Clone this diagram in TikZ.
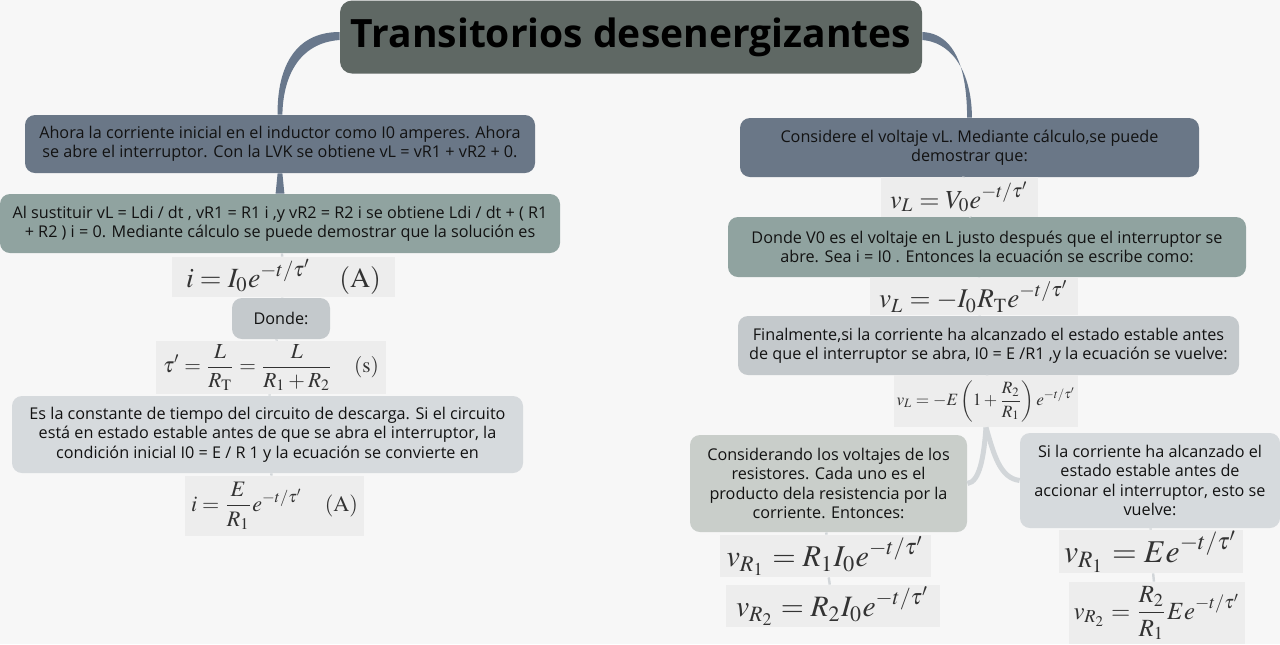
\documentclass[tikz,border=0pt]{standalone}
\usepackage{mathptmx}
\usepackage{fontspec}
\setmainfont{Open Sans}
\usepackage{graphicx}
\usepackage{tikz}
\usetikzlibrary{positioning}
\definecolor{bggray}{RGB}{247,247,247}
\definecolor{ttlfill}{RGB}{95,104,100}
\definecolor{slatefill}{RGB}{106,119,135}
\definecolor{tealfill}{RGB}{144,163,160}
\definecolor{greyfill}{RGB}{196,201,204}
\definecolor{palefill}{RGB}{214,218,221}
\definecolor{sagefill}{RGB}{201,206,202}
\definecolor{eqfill}{RGB}{237,237,237}
\definecolor{branchcol}{RGB}{105,120,140}
\definecolor{twigcol}{RGB}{210,214,217}
\definecolor{txtdark}{RGB}{18,18,18}
\newcommand{\eqfit}[2]{\resizebox{#1pt}{!}{$\displaystyle #2$}}
\tikzset{
  topic/.style={rectangle, rounded corners=5pt, inner sep=0pt, align=center,
    text=txtdark, font=\fontsize{8.1}{9.7}\selectfont},
  slatebox/.style={topic, fill=slatefill},
  tealbox/.style={topic, fill=tealfill},
  greybox/.style={topic, fill=greyfill},
  palebox/.style={topic, fill=palefill},
  sagebox/.style={topic, fill=sagefill},
  eqbox/.style={rectangle, fill=eqfill, inner sep=0pt, text=black!80},
  branch/.style={fill=branchcol},
  twig/.style={line width=2.5pt, color=twigcol},
  link/.style={line width=1.2pt, color=twigcol}
}
\begin{document}
\begin{tikzpicture}[x=0.5pt, y=-0.5pt]
  \fill[bggray] (0,0) rectangle (1280,644);
  \useasboundingbox (0,0) rectangle (1280,644);

  % central topic
  \node[rectangle, rounded corners=6pt, fill=ttlfill, minimum width=291pt, minimum height=36.5pt,
    font=\fontsize{19.5}{22}\bfseries\selectfont, text=black] (ttl) at (631,37) {Transitorios desenergizantes};

  % left column
  \node[slatebox, minimum width=255pt, minimum height=29pt] (l1) at (280,144)
    {Ahora la corriente inicial en el inductor como I0 amperes. Ahora\\se abre el interruptor. Con la LVK se obtiene vL = vR1 + vR2 + 0.};
  \node[tealbox, minimum width=280pt, minimum height=29.5pt] (l2) at (280,223.5)
    {Al sustituir vL = Ldi / dt , vR1 = R1 i ,y vR2 = R2 i se obtiene Ldi / dt + ( R1\\+ R2 ) i = 0. Mediante cálculo se puede demostrar que la solución es};
  \node[eqbox, minimum width=111.5pt, minimum height=20pt] (eqa) at (283.5,277)
    {\eqfit{97.5}{i = I_0e^{-t/\tau'}\quad(\mathrm{A})}};
  \node[greybox, minimum width=49pt, minimum height=20.5pt] (dnd) at (281,318.5) {Donde:};
  \node[eqbox, minimum width=115pt, minimum height=26.5pt] (eqb) at (271,367.5)
    {\eqfit{108}{\tau' = \frac{L}{R_{\mathrm{T}}} = \frac{L}{R_1 + R_2}\quad(\mathrm{s})}};
  \node[palebox, minimum width=255.5pt, minimum height=38.5pt] (l3) at (267.5,434.5)
    {Es la constante de tiempo del circuito de descarga. Si el circuito\\está en estado estable antes de que se abra el interruptor, la\\condición inicial I0 = E / R 1 y la ecuación se convierte en};
  \node[eqbox, minimum width=89.5pt, minimum height=30pt] (eqc) at (274.5,506)
    {\eqfit{83.5}{i = \frac{E}{R_1}e^{-t/\tau'}\quad(\mathrm{A})}};

  % right column
  \node[slatebox, minimum width=229.5pt, minimum height=29.5pt] (r1) at (969.5,147.5)
    {Considere el voltaje vL. Mediante cálculo,se puede\\demostrar que:};
  \node[eqbox, minimum width=78.5pt, minimum height=20pt] (eqd) at (959.5,197)
    {\eqfit{69.5}{v_L = V_0e^{-t/\tau'}}};
  \node[tealbox, minimum width=259pt, minimum height=30pt] (r2) at (987,247)
    {Donde V0 es el voltaje en L justo después que el interruptor se\\abre. Sea i = I0 . Entonces la ecuación se escribe como:};
  \node[eqbox, minimum width=104pt, minimum height=18.5pt] (eqe) at (974,296.5)
    {\eqfit{95}{v_L = -I_0R_{\mathrm{T}}e^{-t/\tau'}}};
  \node[greybox, minimum width=250.5pt, minimum height=29.5pt] (r3) at (988.5,345.5)
    {Finalmente,si la corriente ha alcanzado el estado estable antes\\de que el interruptor se abra, I0 = E /R1 ,y la ecuación se vuelve:};
  \node[eqbox, minimum width=92pt, minimum height=26pt] (eqf) at (986,401)
    {\eqfit{89.5}{v_L = -E\left(1 + \frac{R_2}{R_1}\right)e^{-t/\tau'}}};
  \node[sagebox, minimum width=138.5pt, minimum height=48.5pt] (rl) at (828.5,483.5)
    {Considerando los voltajes de los\\resistores. Cada uno es el\\producto dela resistencia por la\\corriente. Entonces:};
  \node[palebox, minimum width=130pt, minimum height=47.5pt] (rr) at (1150,480.5)
    {Si la corriente ha alcanzado el\\estado estable antes de\\accionar el interruptor, esto se\\vuelve:};
  \node[eqbox, minimum width=105.5pt, minimum height=21pt] (eqg) at (825.5,556)
    {\eqfit{99}{v_{R_1} = R_1I_0e^{-t/\tau'}}};
  \node[eqbox, minimum width=107pt, minimum height=21pt] (eqh) at (833,606)
    {\eqfit{97}{v_{R_2} = R_2I_0e^{-t/\tau'}}};
  \node[eqbox, minimum width=92pt, minimum height=21.5pt] (eqi) at (1151,551.5)
    {\eqfit{87}{v_{R_1} = Ee^{-t/\tau'}}};
  \node[eqbox, minimum width=88pt, minimum height=31pt] (eqj) at (1157,613)
    {\eqfit{83.5}{v_{R_2} = \frac{R_2}{R_1}Ee^{-t/\tau'}}};

  % branches (tapered)
  \fill[branch] ([yshift=2.5pt]ttl.west) .. controls (292,32) and (277,72) .. ([xshift=-1.2pt]l1.north)
    -- ([xshift=1.2pt]l1.north) .. controls (283,78) and (298,43) .. ([yshift=-1.5pt]ttl.west) -- cycle;
  \fill[branch] ([yshift=2.5pt]ttl.east) .. controls (960,34) and (967,80) .. ([xshift=-1.2pt]r1.north)
    -- ([xshift=1.2pt]r1.north) .. controls (972,80) and (957,43) .. ([yshift=-1.5pt]ttl.east) -- cycle;
  \fill[branch] ([xshift=-1.2pt]l1.south) -- ([xshift=-2.2pt]l2.north)
    -- ([xshift=2.2pt]l2.north) -- ([xshift=1.2pt]l1.south) -- cycle;
  \draw[twig] (eqf.south) .. controls (984,455) and (980,482) .. (rl.east);
  \draw[twig] (eqf.south) .. controls (994,455) and (1000,478) .. (rr.west);
  \draw[link] (l2) -- (eqa);
  \draw[link] (eqa) -- (dnd);
  \draw[link] (dnd) -- (eqb);
  \draw[link] (eqb) -- (l3);
  \draw[link] (l3) -- (eqc);
  \draw[link] (r1) -- (eqd);
  \draw[link] (eqd) -- (r2);
  \draw[link] (r2) -- (eqe);
  \draw[link] (eqe) -- (r3);
  \draw[link] (r3) -- (eqf);
  \draw[link] (rl) -- (eqg);
  \draw[link] (eqg) -- (eqh);
  \draw[link] (rr) -- (eqi);
  \draw[link] (eqi) -- (eqj);
\end{tikzpicture}
\end{document}
